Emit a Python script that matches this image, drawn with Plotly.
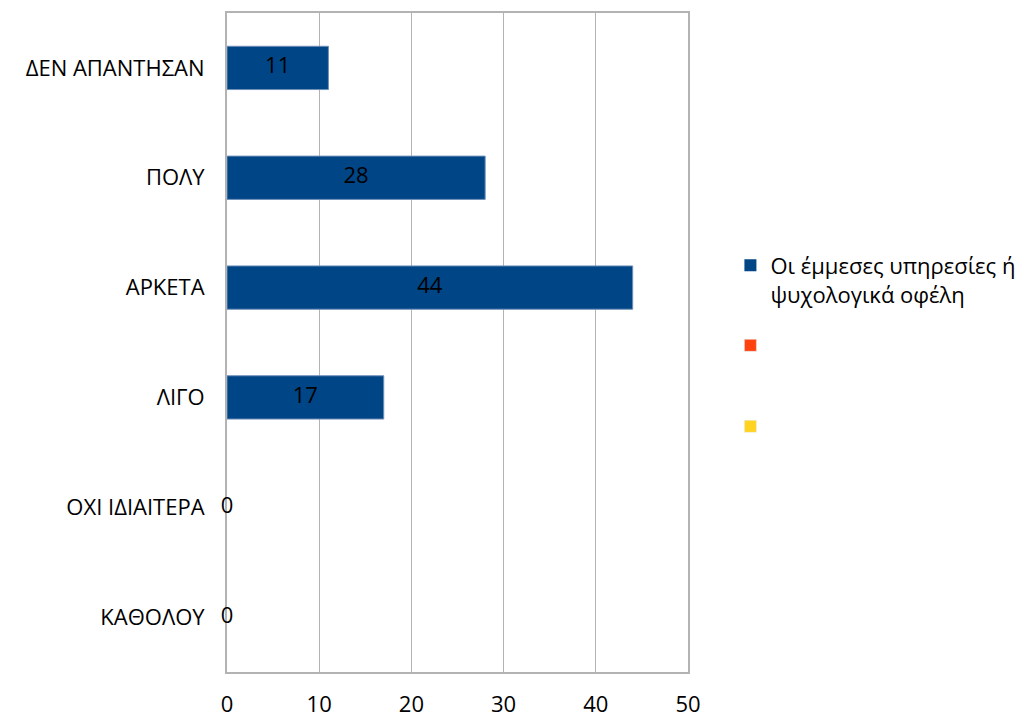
import plotly.graph_objects as go

# Categories listed bottom to top
categories = ["ΚΑΘΟΛΟΥ", "ΟΧΙ ΙΔΙΑΙΤΕΡΑ", "ΛΙΓΟ", "ΑΡΚΕΤΑ", "ΠΟΛΥ", "ΔΕΝ ΑΠΑΝΤΗΣΑΝ"]
values = [0, 0, 17, 44, 28, 11]
series_name = "Οι έμμεσες υπηρεσίες ή<br>ψυχολογικά οφέλη"
x_ticks = [0, 10, 20, 30, 40, 50]

FONT = "Open Sans"
FS = 22
BLUE = "#004586"
ORANGE = "#ff420e"
YELLOW = "#ffd320"
GRID = "#b3b3b3"

fig = go.Figure()

fig.add_trace(go.Bar(
    y=categories, x=values, orientation="h",
    name=series_name, width=0.394,
    marker=dict(color=BLUE,
                line=dict(color="#6f8fb8", width=[0 if v == 0 else 1 for v in values])),
    legend="legend",
))

# Value labels centred on each bar (zero values sit on the axis)
fig.add_trace(go.Scatter(
    y=categories, x=[v / 2 for v in values], mode="text",
    text=[str(v) for v in values], textposition="middle center",
    textfont=dict(family=FONT, size=FS, color="black"),
    cliponaxis=False, showlegend=False, hoverinfo="skip",
))

# Empty series that only appear in the legend
fig.add_trace(go.Bar(y=[None], x=[None], orientation="h", name=" ",
                     marker=dict(color=ORANGE), legend="legend2"))
fig.add_trace(go.Bar(y=[None], x=[None], orientation="h", name=" ",
                     marker=dict(color=YELLOW), legend="legend3"))

legend_common = dict(
    xanchor="left", font=dict(family=FONT, size=FS, color="black"),
    itemwidth=30, bgcolor="rgba(0,0,0,0)", valign="top",
)

fig.update_layout(
    width=1029, height=717,
    margin=dict(l=227, r=341, t=13, b=45, autoexpand=False),
    paper_bgcolor="white", plot_bgcolor="white",
    font=dict(family=FONT, size=FS, color="black"),
    showlegend=True,
    legend=dict(x=1.092, y=0.5948, yanchor="middle", **legend_common),
    legend2=dict(x=1.092, y=0.4954, yanchor="middle", **legend_common),
    legend3=dict(x=1.092, y=0.3725, yanchor="middle", **legend_common),
    xaxis=dict(
        range=[0, 50], tickvals=x_ticks,
        showgrid=True, gridcolor=GRID, gridwidth=1,
        showline=True, linecolor=GRID, linewidth=2, mirror=True,
        zeroline=False, ticks="", ticklabelstandoff=12,
        tickfont=dict(family=FONT, size=FS),
        layer="below traces", fixedrange=True, automargin=False,
    ),
    yaxis=dict(
        categoryorder="array", categoryarray=categories,
        showgrid=False, showline=True, linecolor=GRID, linewidth=2, mirror=True,
        ticks="", ticklabelstandoff=16,
        tickfont=dict(family=FONT, size=FS),
        layer="below traces", fixedrange=True, automargin=False,
    ),
)

fig.write_html("out.html")
